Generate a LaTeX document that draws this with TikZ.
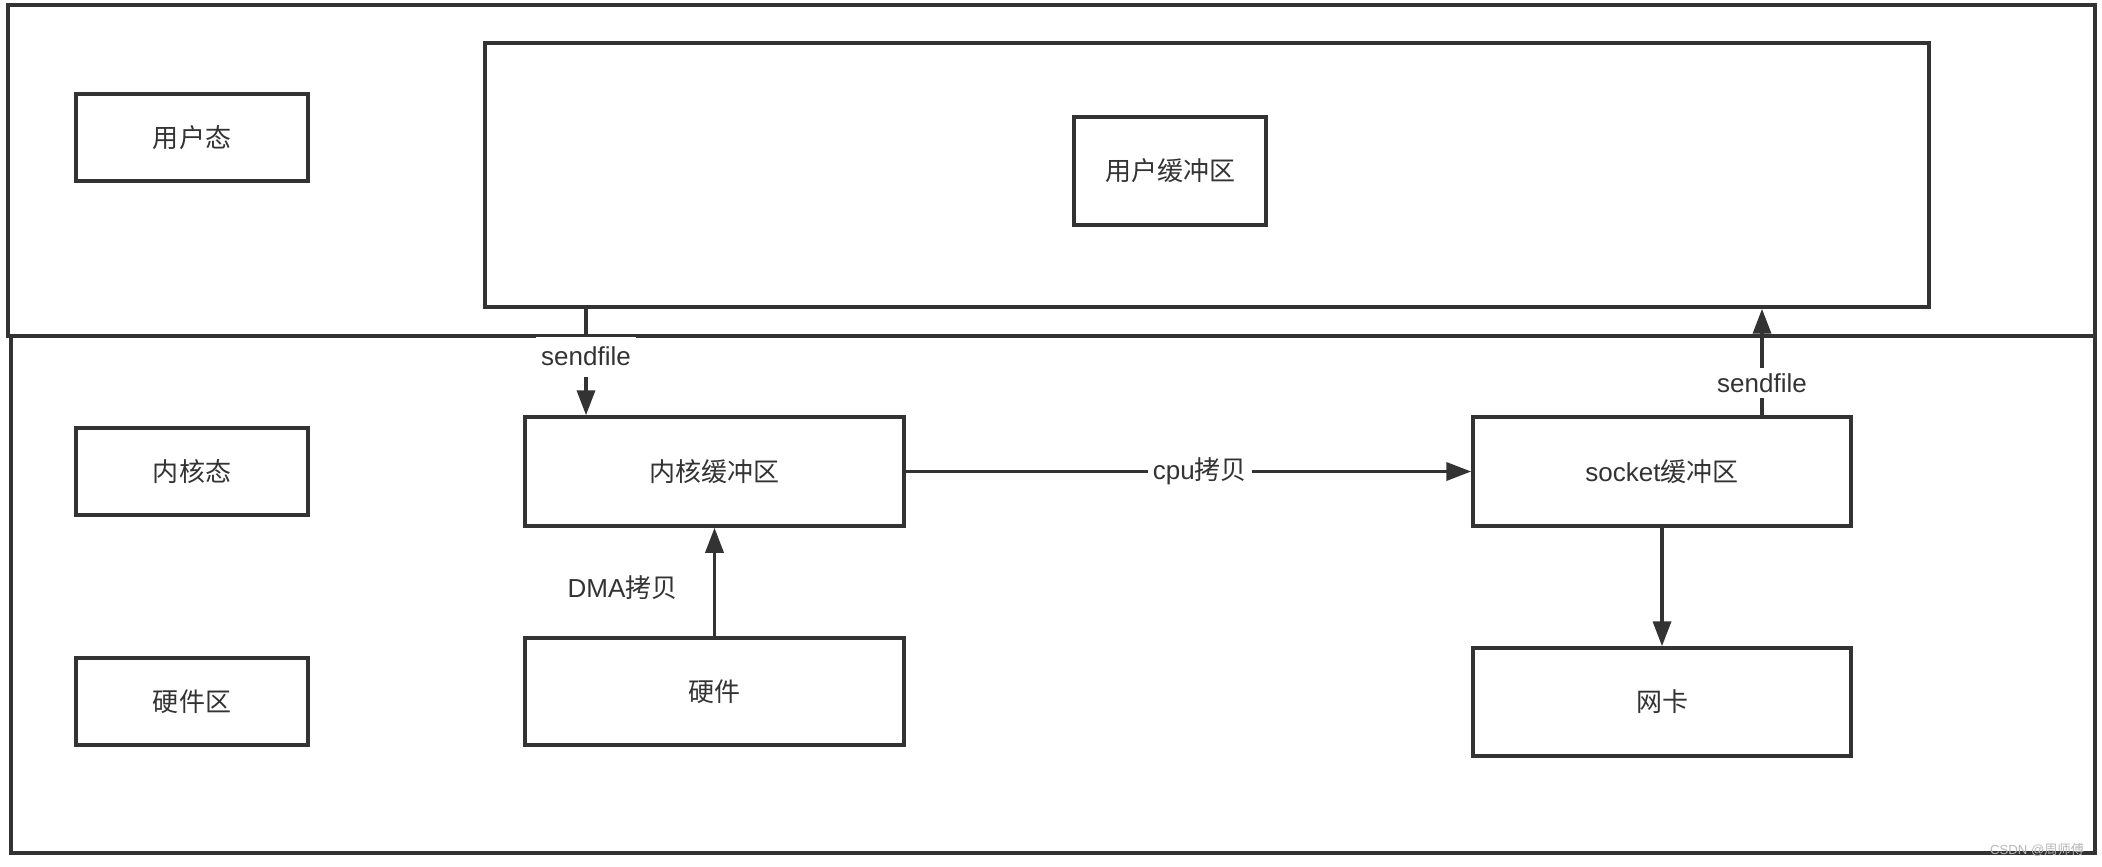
\documentclass[tikz,border=0pt]{standalone}
\usepackage{fontspec}
\setmainfont{Noto Sans CJK SC}
\newfontfamily\lat{Liberation Sans}
\usetikzlibrary{arrows.meta}
\definecolor{ink}{HTML}{333333}
\definecolor{wm}{HTML}{B8B8B8}
\begin{document}
\begin{tikzpicture}[x=0.02cm,y=-0.02cm,
  box/.style={draw=ink,line width=2pt,inner sep=0pt,fill=white,font=\fontsize{14.8}{17}\selectfont,text=ink},
  region/.style={draw=ink,line width=2pt,inner sep=0pt},
  arr/.style={draw=ink,line width=2pt,-{Triangle[length=0.5cm,width=0.36cm]}},
  lab/.style={fill=white,inner sep=3pt,font=\fontsize{14.8}{17}\selectfont,text=ink}]
\useasboundingbox (0,0) rectangle (2102,866);
\fill[white] (0,0) rectangle (2102,866);
% regions
\node[region,minimum width=41.74cm,minimum height=6.62cm] (top) at (1051.5,170.5) {};
\node[region,minimum width=41.68cm,minimum height=10.34cm] (bottom) at (1053,594.5) {};
% user buffer area
\node[box,minimum width=28.88cm,minimum height=5.28cm] (inner) at (1207,175) {};
\node[box,minimum width=3.84cm,minimum height=2.16cm] (ubuf) at (1170,171) {用户缓冲区};
% left labels
\node[box,minimum width=4.64cm,minimum height=1.74cm] (user) at (192,137.5) {用户态};
\node[box,minimum width=4.64cm,minimum height=1.74cm] (kern) at (192,471.5) {内核态};
\node[box,minimum width=4.64cm,minimum height=1.74cm] (hwz) at (192,701.5) {硬件区};
% kernel boxes
\node[box,minimum width=7.58cm,minimum height=2.18cm] (kbuf) at (714.5,471.5) {内核缓冲区};
\node[box,minimum width=7.58cm,minimum height=2.14cm] (hw) at (714.5,691.5) {硬件};
\node[box,minimum width=7.56cm,minimum height=2.18cm] (sock) at (1662,471.5) {{\lat socket}缓冲区};
\node[box,minimum width=7.56cm,minimum height=2.16cm] (nic) at (1662,702) {网卡};
% connectors
\coordinate (s1) at (586,0);
\coordinate (s2) at (1762,0);
\draw[arr] (inner.south -| s1) -- node[lab,pos=0.45,inner ysep=6pt]{\lat sendfile} (kbuf.north -| s1);
\draw[arr] (sock.north -| s2) -- node[lab,pos=0.3]{\lat sendfile} (inner.south -| s2);
\draw[arr] (kbuf.east) -- node[lab,pos=0.52]{{\lat cpu}拷贝} (sock.west);
\draw[arr] (hw.north) -- node[lab,pos=0.45,left=0.6cm,fill=none]{{\lat DMA}拷贝} (kbuf.south);
\draw[arr] (sock.south) -- (nic.north);
% watermark
\node[text=wm,font=\fontsize{7.5}{8}\selectfont,inner sep=0pt] (wmk) at (2037,850) {{\lat CSDN @}周师傅};
\end{tikzpicture}
\end{document}
